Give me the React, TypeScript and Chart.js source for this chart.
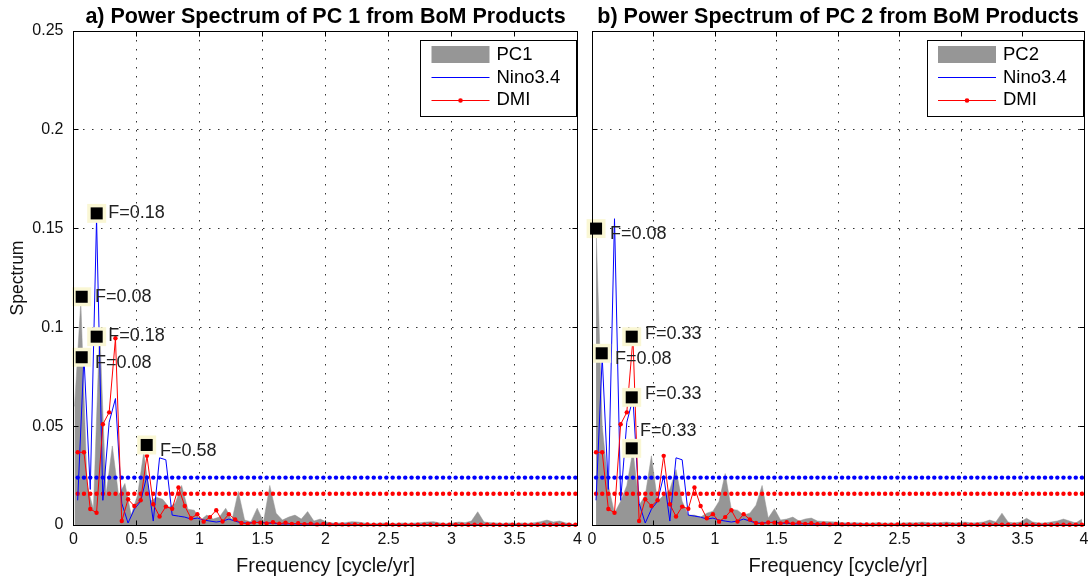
import React, { useEffect, useRef } from 'react';
import { Chart, registerables } from 'chart.js';
Chart.register(...registerables);

// ---------------- DATA ----------------
// frequency grid of the Nino3.4 / DMI / PC2 spectra [cycle/yr]
const FREQ = [
  0.033, 0.083, 0.133, 0.183, 0.233, 0.283, 0.333, 0.383, 0.433, 0.483,
  0.533, 0.583, 0.633, 0.683, 0.733, 0.783, 0.833, 0.883, 0.933, 0.983,
  1.033, 1.083, 1.133, 1.183, 1.233, 1.283, 1.333, 1.383, 1.433, 1.483,
  1.533, 1.583, 1.633, 1.683, 1.733, 1.783, 1.833, 1.883, 1.933, 1.983,
  2.033, 2.083, 2.133, 2.183, 2.233, 2.283, 2.333, 2.383, 2.433, 2.483,
  2.533, 2.583, 2.633, 2.683, 2.733, 2.783, 2.833, 2.883, 2.933, 2.983,
  3.033, 3.083, 3.133, 3.183, 3.233, 3.283, 3.333, 3.383, 3.433, 3.483,
  3.533, 3.583, 3.633, 3.683, 3.733, 3.783, 3.833, 3.883, 3.933, 3.983,
];
// frequency grid of the PC1 spectrum [cycle/yr]
const FREQ_PC1 = [
  0.008, 0.058, 0.108, 0.158, 0.208, 0.258, 0.308, 0.358, 0.408, 0.458,
  0.508, 0.558, 0.608, 0.658, 0.708, 0.758, 0.808, 0.858, 0.908, 0.958,
  1.008, 1.058, 1.108, 1.158, 1.208, 1.258, 1.308, 1.358, 1.408, 1.458,
  1.508, 1.558, 1.608, 1.658, 1.708, 1.758, 1.808, 1.858, 1.908, 1.958,
  2.008, 2.058, 2.108, 2.158, 2.208, 2.258, 2.308, 2.358, 2.408, 2.458,
  2.508, 2.558, 2.608, 2.658, 2.708, 2.758, 2.808, 2.858, 2.908, 2.958,
  3.008, 3.058, 3.108, 3.158, 3.208, 3.258, 3.308, 3.358, 3.408, 3.458,
  3.508, 3.558, 3.608, 3.658, 3.708, 3.758, 3.808, 3.858, 3.908, 3.958,
];
const PC1 = [
  0.060, 0.113, 0.020, 0.008, 0.100, 0.015, 0.040, 0.015, 0.021, 0.005,
  0.015, 0.037, 0.012, 0.014, 0.013, 0.009, 0.011, 0.020, 0.008, 0.0075,
  0.0025, 0.005, 0.003, 0.004, 0.0085, 0.0025, 0.017, 0.0025, 0.0017, 0.0085,
  0.0017, 0.020, 0.006, 0.0025, 0.004, 0.005, 0.003, 0.0068, 0.002, 0.003,
  0.0015, 0.001, 0.001, 0.0012, 0.0017, 0.0015, 0.001, 0.0008, 0.0008, 0.001,
  0.0007, 0.0008, 0.001, 0.0008, 0.001, 0.0012, 0.0015, 0.0017, 0.001, 0.0008,
  0.001, 0.0015, 0.0012, 0.002, 0.0067, 0.0015, 0.0012, 0.001, 0.0008, 0.001,
  0.0008, 0.001, 0.0008, 0.0012, 0.0017, 0.0025, 0.0015, 0.002, 0.001, 0.0008,
];
const PC2 = [
  0.150, 0.050, 0.020, 0.006, 0.012, 0.020, 0.038, 0.010, 0.015, 0.035,
  0.012, 0.015, 0.018, 0.028, 0.012, 0.005, 0.005, 0.004, 0.006, 0.007,
  0.012, 0.026, 0.008, 0.0075, 0.005, 0.006, 0.010, 0.020, 0.0035, 0.0082,
  0.0025, 0.003, 0.004, 0.002, 0.003, 0.0035, 0.002, 0.0018, 0.0017, 0.0015,
  0.0012, 0.001, 0.0012, 0.001, 0.0008, 0.001, 0.0012, 0.0008, 0.001, 0.0008,
  0.001, 0.0012, 0.001, 0.0015, 0.0012, 0.001, 0.0012, 0.0015, 0.001, 0.0012,
  0.0015, 0.001, 0.0012, 0.0015, 0.0025, 0.0015, 0.006, 0.0015, 0.001, 0.0015,
  0.0034, 0.0015, 0.001, 0.001, 0.0015, 0.002, 0.003, 0.002, 0.001, 0.003,
];
const NINO = [
  0.0125, 0.085, 0.018, 0.155, 0.0125, 0.052, 0.064, 0.011, 0.001, 0.008,
  0.012, 0.025, 0.002, 0.034, 0.033, 0.005, 0.0045, 0.004, 0.003, 0.0035,
  0.0025, 0.002, 0.0015, 0.002, 0.003, 0.002, 0.001, 0.001, 0.0012, 0.0015,
  0.001, 0.0008, 0.0006, 0.0005, 0.0006, 0.0005, 0.0004, 0.0005, 0.0004, 0.0003,
  0.0004, 0.0003, 0.0003, 0.0004, 0.0003, 0.0002, 0.0003, 0.0002, 0.0002, 0.0003,
  0.0002, 0.0002, 0.0002, 0.0003, 0.0002, 0.0002, 0.0001, 0.0002, 0.0002, 0.0001,
  0.0002, 0.0001, 0.0001, 0.0002, 0.0001, 0.0001, 0.0001, 0.0001, 0.0002, 0.0001,
  0.0001, 0.0001, 0.0001, 0.0001, 0.0001, 0.0001, 0.0001, 0.0001, 0.0001, 0.0001,
];
const DMI = [
  0.0368, 0.0368, 0.0081, 0.0062, 0.051, 0.057, 0.0945, 0.002, 0.013, 0.0096,
  0.0125, 0.035, 0.0105, 0.0043, 0.0093, 0.0082, 0.019, 0.0096, 0.0034, 0.0055,
  0.0017, 0.004, 0.0075, 0.0018, 0.0055, 0.0028, 0.001, 0.0006, 0.0013, 0.0012,
  0.0008, 0.0014, 0.0006, 0.0012, 0.0005, 0.0009, 0.0004, 0.0007, 0.0003, 0.0005,
  0.0003, 0.0004, 0.0003, 0.0002, 0.0003, 0.0002, 0.0003, 0.0002, 0.0002, 0.0003,
  0.0002, 0.0001, 0.0002, 0.0002, 0.0001, 0.0002, 0.0001, 0.0001, 0.0002, 0.0001,
  0.0001, 0.0002, 0.0001, 0.0001, 0.0001, 0.0002, 0.0001, 0.0001, 0.0001, 0.0001,
  0.0001, 0.0001, 0.0001, 0.0001, 0.0001, 0.0001, 0.0001, 0.0001, 0.0001, 0.0001,
];
const NINO_SIG = 0.024;
const DMI_SIG = 0.0158;

// data tips (panel a)
const TIP_A_X = [0.184, 0.065, 0.184, 0.065, 0.581];
const TIP_A_Y = [0.1577, 0.1155, 0.0953, 0.0849, 0.0405];
const TIP_A_TEXT = ['F=0.18', 'F=0.08', 'F=0.18', 'F=0.08', 'F=0.58'];
// data tips (panel b)
const TIP_B_X = [0.033, 0.323, 0.079, 0.323, 0.323];
const TIP_B_Y = [0.150, 0.0953, 0.0869, 0.0646, 0.0388];
const TIP_B_TEXT = ['F=0.08', 'F=0.33', 'F=0.08', 'F=0.33', 'F=0.33'];

const X_TICKS_STEP = 0.5;
const Y_TICKS_STEP = 0.05;
const X_MAX = 4;
const Y_MAX = 0.25;

// ---------------- STYLE ----------------
const FONT = "'Liberation Sans', Arial, Helvetica, sans-serif";
const GRAY = 'rgb(150,150,150)';
const BLUE = '#0000ff';
const RED = '#ff0000';
const TIP_BG = 'rgb(250,247,212)';
const TIP_A_OFF = [[11.6, 0], [13.3, 0], [11.6, -1], [13.3, 5.3], [13.3, 5.7]];
const TIP_B_OFF = [[14, 5], [13.3, -2.7], [13.3, 6], [13.3, -3.3], [8.3, -17.6]];

const al = (v: number) => Math.round(v - 0.5) + 0.5;
const fmt = (v: number) => String(Number(Number(v).toFixed(3)));

function makeDecor(title: string, pcLabel: string, tipText: string[], tipOff: number[][]) {
  return {
    id: 'decor',
    afterDatasetsDraw(chart: any) {
      const { ctx, chartArea: a, scales } = chart;
      const xs = scales.x, ys = scales.y;
      ctx.save();
      // frame
      const L = al(a.left), R = al(a.right), T = al(a.top), B = al(a.bottom);
      ctx.strokeStyle = '#000';
      ctx.lineWidth = 1;
      ctx.setLineDash([]);
      ctx.strokeRect(L, T, R - L, B - T);
      // inward ticks
      ctx.beginPath();
      for (let v = 0; v <= X_MAX + 1e-9; v += X_TICKS_STEP) {
        const px = al(xs.getPixelForValue(v));
        ctx.moveTo(px, B); ctx.lineTo(px, B - 5);
        ctx.moveTo(px, T); ctx.lineTo(px, T + 5);
      }
      for (let v = 0; v <= Y_MAX + 1e-9; v += Y_TICKS_STEP) {
        const py = al(ys.getPixelForValue(v));
        ctx.moveTo(L, py); ctx.lineTo(L + 5, py);
        ctx.moveTo(R, py); ctx.lineTo(R - 5, py);
      }
      ctx.stroke();

      // tip labels
      const meta = chart.getDatasetMeta(0);
      ctx.fillStyle = '#222';
      ctx.font = `18px ${FONT}`;
      ctx.textAlign = 'left';
      ctx.textBaseline = 'middle';
      meta.data.forEach((el: any, i: number) => {
        ctx.fillText(tipText[i], el.x + tipOff[i][0], el.y + tipOff[i][1]);
      });

      // legend
      const bx = a.right - 157, by = a.top + 9, bw = 156, bh = 76;
      ctx.fillStyle = '#fff';
      ctx.fillRect(bx, by, bw, bh);
      ctx.strokeStyle = '#000';
      ctx.lineWidth = 1;
      ctx.strokeRect(al(bx), al(by), bw, bh);
      ctx.fillStyle = GRAY;
      ctx.fillRect(bx + 11, by + 6, 58, 17);
      ctx.strokeStyle = BLUE;
      ctx.beginPath();
      ctx.moveTo(bx + 11, al(by + 37.7)); ctx.lineTo(bx + 69, al(by + 37.7));
      ctx.stroke();
      ctx.strokeStyle = RED;
      ctx.beginPath();
      ctx.moveTo(bx + 11, al(by + 60)); ctx.lineTo(bx + 69, al(by + 60));
      ctx.stroke();
      ctx.fillStyle = RED;
      ctx.beginPath();
      ctx.arc(bx + 40, al(by + 60), 2.3, 0, Math.PI * 2);
      ctx.fill();
      ctx.fillStyle = '#000';
      ctx.font = `18.5px ${FONT}`;
      ctx.textBaseline = 'middle';
      ctx.fillText(pcLabel, bx + 76, by + 15);
      ctx.fillText('Nino3.4', bx + 76, by + 37.7);
      ctx.fillText('DMI', bx + 76, by + 60);

      // title
      ctx.font = `bold 21.5px ${FONT}`;
      ctx.textAlign = 'center';
      ctx.fillStyle = '#000';
      ctx.fillText(title, (a.left + a.right) / 2, 17);
      ctx.restore();
    },
  };
}

type PanelProps = {
  width: number;
  left: number;
  title: string;
  pcLabel: string;
  pcFreq: number[];
  pcVals: number[];
  tipX: number[];
  tipY: number[];
  tipText: string[];
  tipOff: number[][];
  yAxisWidth: number;
  padRight: number;
  showY: boolean;
};

function Panel(p: PanelProps) {
  const ref = useRef<HTMLCanvasElement>(null);
  useEffect(() => {
    const canvas = ref.current!;
    const pts = (xs: number[], ys: number[]) => xs.map((x, i) => ({ x, y: ys[i] }));
    const chart = new Chart(canvas, {
      type: 'line',
      data: {
        datasets: [
          { label: 'tip', data: pts(p.tipX, p.tipY), showLine: false, pointStyle: 'rect', pointRadius: 8.5, pointBackgroundColor: '#000', pointBorderWidth: 0, order: 1, clip: false } as any,
          { label: 'tipbg', data: pts(p.tipX, p.tipY), showLine: false, pointStyle: 'rect', pointRadius: 13.4, pointBackgroundColor: TIP_BG, pointBorderWidth: 0, order: 2, clip: false },
          { label: 'DMI', data: pts(FREQ, DMI), borderColor: RED, borderWidth: 1, pointRadius: 2.2, pointBackgroundColor: RED, pointBorderWidth: 0, tension: 0, order: 4, clip: false },
          { label: 'Nino3.4', data: pts(FREQ, NINO), borderColor: BLUE, borderWidth: 1, pointRadius: 0, tension: 0, order: 5 },
          { label: 'DMI sig', data: FREQ.map((f) => ({ x: f, y: DMI_SIG })), showLine: false, pointRadius: 2.2, pointBackgroundColor: RED, pointBorderWidth: 0, order: 6 },
          { label: 'Nino sig', data: FREQ.map((f) => ({ x: f, y: NINO_SIG })), showLine: false, pointRadius: 2.2, pointBackgroundColor: BLUE, pointBorderWidth: 0, order: 7 },
          { label: p.pcLabel, data: pts(p.pcFreq, p.pcVals), fill: 'origin', backgroundColor: GRAY, borderColor: GRAY, borderWidth: 0.5, pointRadius: 0, tension: 0, order: 10 },
        ],
      },
      options: {
        animation: false,
        responsive: false,
        devicePixelRatio: 1,
        events: [],
        layout: { autoPadding: false, padding: { top: 31, right: p.padRight, left: 0, bottom: 0 } },
        plugins: { legend: { display: false }, tooltip: { enabled: false }, title: { display: false } },
        scales: {
          x: {
            type: 'linear',
            min: 0,
            max: X_MAX,
            ticks: { stepSize: X_TICKS_STEP, autoSkip: false, maxRotation: 0, padding: 5, color: '#111', font: { family: FONT, size: 16 }, callback: (v: any) => fmt(v) },
            grid: { color: 'rgba(0,0,0,0.8)', lineWidth: 1, drawTicks: false },
            border: { display: false, dash: [1.5, 7.5] },
            title: { display: true, text: 'Frequency [cycle/yr]', color: '#111', font: { family: FONT, size: 20 }, padding: { top: 0, bottom: 5 } },
            afterFit: (s: any) => { s.height = 58; s.paddingLeft = 0; s.paddingRight = 0; },
          },
          y: {
            type: 'linear',
            min: 0,
            max: Y_MAX,
            ticks: { display: p.showY, stepSize: Y_TICKS_STEP, padding: 10, color: '#111', font: { family: FONT, size: 16 }, callback: (v: any) => fmt(v) },
            grid: { color: 'rgba(0,0,0,0.8)', lineWidth: 1, drawTicks: false },
            border: { display: false, dash: [1.5, 7.5] },
            title: { display: p.showY, text: 'Spectrum', color: '#111', font: { family: FONT, size: 17.5 }, padding: { top: 8, bottom: 0 } },
            afterFit: (s: any) => { s.width = p.yAxisWidth; s.paddingTop = 0; s.paddingBottom = 0; },
          },
        },
      },
      plugins: [makeDecor(p.title, p.pcLabel, p.tipText, p.tipOff)],
    } as any);
    return () => chart.destroy();
  }, []);
  return (
    <canvas
      ref={ref}
      width={p.width}
      height={583}
      style={{ position: 'absolute', left: p.left, top: 0, width: p.width, height: 583 }}
    />
  );
}

export default function App() {
  return (
    <div style={{ position: 'absolute', left: 0, top: 0, width: 1090, height: 583, background: '#fff', overflow: 'hidden' }}>
      <Panel
        width={585}
        left={0}
        title="a) Power Spectrum of PC 1 from BoM Products"
        pcLabel="PC1"
        pcFreq={FREQ_PC1}
        pcVals={PC1}
        tipX={TIP_A_X}
        tipY={TIP_A_Y}
        tipText={TIP_A_TEXT}
        tipOff={TIP_A_OFF}
        yAxisWidth={73.5}
        padRight={7.5}
        showY={true}
      />
      <Panel
        width={505}
        left={585}
        title="b) Power Spectrum of PC 2 from BoM Products"
        pcLabel="PC2"
        pcFreq={FREQ}
        pcVals={PC2}
        tipX={TIP_B_X}
        tipY={TIP_B_Y}
        tipText={TIP_B_TEXT}
        tipOff={TIP_B_OFF}
        yAxisWidth={7}
        padRight={6}
        showY={false}
      />
    </div>
  );
}
